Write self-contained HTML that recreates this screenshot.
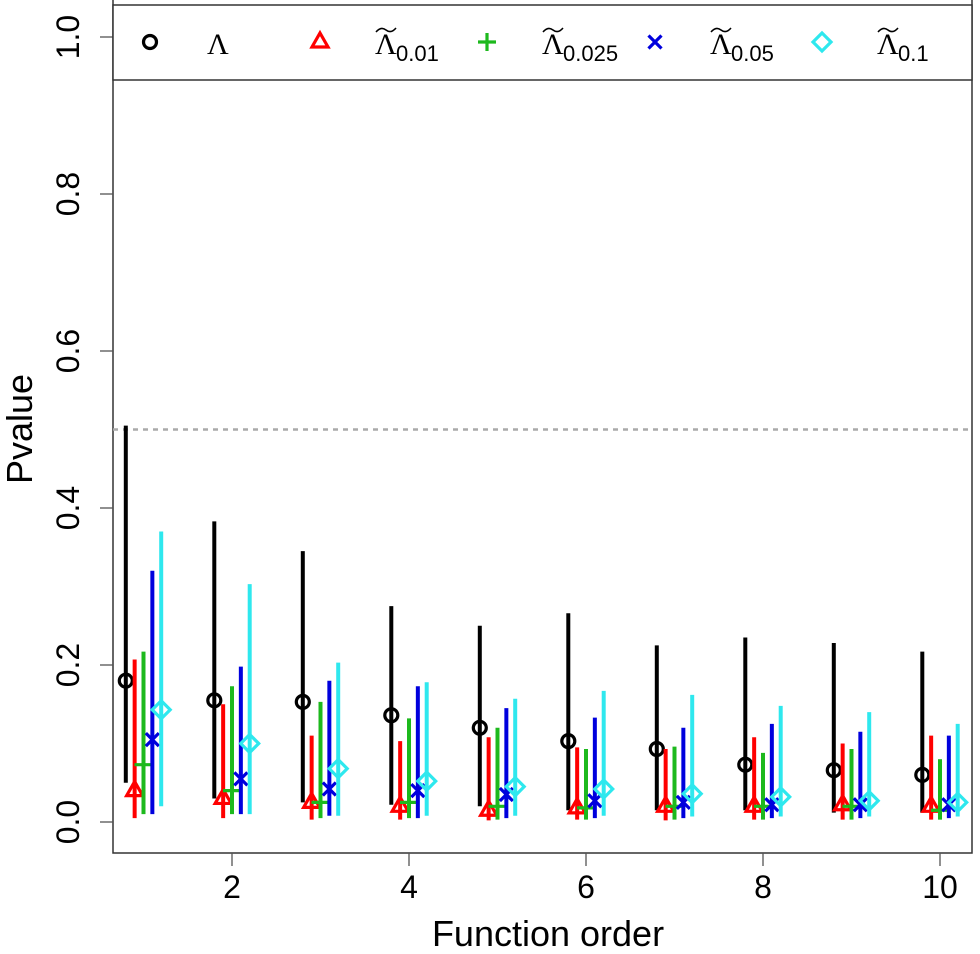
<!DOCTYPE html>
<html><head><meta charset="utf-8"><style>
html,body{margin:0;padding:0;background:#fff}
svg{display:block;font-family:"Liberation Sans",sans-serif}
</style></head><body>
<svg id="c" width="980" height="954" xmlns="http://www.w3.org/2000/svg"></svg>
<script>
const orders=[1,2,3,4,5,6,7,8,9,10];
const blackPt=[0.18,0.155,0.153,0.136,0.12,0.103,0.093,0.073,0.066,0.06];
const blackLo=[0.05,0.03,0.025,0.022,0.02,0.015,0.015,0.015,0.012,0.012];
const blackHi=[0.505,0.383,0.345,0.275,0.25,0.266,0.225,0.235,0.228,0.217];
const redPt=[0.04,0.03,0.025,0.02,0.015,0.018,0.02,0.02,0.022,0.02];
const redLo=[0.005,0.005,0.003,0.003,0.002,0.003,0.002,0.003,0.003,0.003];
const redHi=[0.207,0.15,0.11,0.103,0.108,0.095,0.093,0.108,0.1,0.11];
const greenPt=[0.073,0.04,0.025,0.025,0.02,0.018,0.02,0.02,0.02,0.015];
const greenLo=[0.01,0.01,0.005,0.005,0.003,0.003,0.003,0.003,0.003,0.003];
const greenHi=[0.217,0.173,0.153,0.132,0.12,0.093,0.096,0.088,0.093,0.08];
const bluePt=[0.105,0.055,0.042,0.04,0.035,0.027,0.025,0.022,0.022,0.022];
const blueLo=[0.01,0.01,0.008,0.005,0.005,0.005,0.005,0.005,0.005,0.005];
const blueHi=[0.32,0.198,0.18,0.173,0.145,0.133,0.12,0.125,0.115,0.11];
const cyanPt=[0.143,0.1,0.068,0.052,0.045,0.042,0.036,0.032,0.027,0.025];
const cyanLo=[0.02,0.01,0.008,0.008,0.008,0.008,0.007,0.007,0.007,0.007];
const cyanHi=[0.37,0.303,0.203,0.178,0.157,0.167,0.162,0.148,0.14,0.125];
const yTicks=[0,0.2,0.4,0.6,0.8,1.0];
const yTickLabels=["0.0","0.2","0.4","0.6","0.8","1.0"];
const xTicks=[2,4,6,8,10];
const refLine=0.5;

const NS="http://www.w3.org/2000/svg";
const svg=document.getElementById('c');
const X=v=>232+(v-2)*88.5;
const Y=v=>822-v*785;
function el(t,a,p){const e=document.createElementNS(NS,t);for(const k in a)e.setAttribute(k,a[k]);(p||svg).appendChild(e);return e;}

let b=el('path',{d:'M113,0 V853 H972 V0',fill:'none',stroke:'#333','stroke-width':1.5});


let d=el('line',{x1:113,x2:972,y1:Y(refLine),y2:Y(refLine),stroke:'#aaa','stroke-width':2.5,'stroke-dasharray':'5,5'});



yTicks.forEach((v,i)=>{
  const t=el('line',{x1:100,x2:113,y1:Y(v),y2:Y(v),stroke:'#555','stroke-width':1.3});
  
  
  const l=el('text',{x:68,y:Y(v),'font-size':32,'text-anchor':'middle',transform:`rotate(-90 68 ${Y(v)})`,'dominant-baseline':'central'});
  l.textContent=yTickLabels[i];
  
  
});
xTicks.forEach(v=>{
  const t=el('line',{x1:X(v),x2:X(v),y1:853,y2:866,stroke:'#555','stroke-width':1.3});
  
  
  const l=el('text',{x:X(v),y:898,'font-size':32,'text-anchor':'middle'});
  l.textContent=v;
  
  
});
let xt=el('text',{x:548,y:946,'font-size':36,'text-anchor':'middle'});xt.textContent='Function order';


let yt=el('text',{x:32,y:429,'font-size':36,'text-anchor':'middle',transform:'rotate(-90 32 429)'});yt.textContent='Pvalue';



function marker(type,x,y,col,g){
  if(type==='circle')el('circle',{cx:x,cy:y,r:6.5,fill:'none',stroke:col,'stroke-width':3.2},g);
  else if(type==='tri')el('path',{d:`M${x},${y-9} L${x+8},${y+5} L${x-8},${y+5} Z`,fill:'none',stroke:col,'stroke-width':3.2},g);
  else if(type==='plus')el('path',{d:`M${x-9},${y} H${x+9} M${x},${y-9} V${y+9}`,stroke:col,'stroke-width':3.2},g);
  else if(type==='x')el('path',{d:`M${x-6.5},${y-6.5} L${x+6.5},${y+6.5} M${x-6.5},${y+6.5} L${x+6.5},${y-6.5}`,stroke:col,'stroke-width':3.2},g);
  else el('path',{d:`M${x},${y-9} L${x+9},${y} L${x},${y+9} L${x-9},${y} Z`,fill:'none',stroke:col,'stroke-width':3.2},g);
}
const series=[
 ['lambda','#000','circle',-0.2,blackPt,blackLo,blackHi],
 ['lambda-0.01','#f00','tri',-0.1,redPt,redLo,redHi],
 ['lambda-0.025','#1db91d','plus',0,greenPt,greenLo,greenHi],
 ['lambda-0.05','#00d','x',0.1,bluePt,blueLo,blueHi],
 ['lambda-0.1','#2ee8ee','diamond',0.2,cyanPt,cyanLo,cyanHi]];
series.forEach(s=>{
  const g=el('g',{});
  
  
  orders.forEach((o,i)=>{
    const x=X(o+s[3]);
    el('line',{x1:x,x2:x,y1:Y(s[5][i]),y2:Y(s[6][i]),stroke:s[1],'stroke-width':4},g);
    marker(s[2],x,Y(s[4][i]),s[1],g);
  });
});
const lg=el('g',{});


el('rect',{x:113,y:5,width:859,height:75,fill:'#fff',stroke:'#333','stroke-width':1.5},lg);
const leg=[['circle','#000',150,''],['tri','#f00',320,'0.01'],['plus','#1db91d',487,'0.025'],['x','#00d',655,'0.05'],['diamond','#2ee8ee',822,'0.1']];
leg.forEach(e=>{
  const g=el('g',{},lg);
  
  
  marker(e[0],e[2],42,e[1],g);
  const lx=e[2]+(e[3]?55:57);
  const t=el('text',{x:lx,y:54,'font-size':30,'font-family':'Liberation Serif, serif'},g);
  t.textContent='Λ';
  if(e[3]){
    el('path',{d:`M${lx+1},${32} q5,-6 10,-2 t10,-2`,fill:'none',stroke:'#000','stroke-width':1.5},g);
    const s=el('text',{x:lx+21,y:61,'font-size':22},g);s.textContent=e[3];
  }
});
</script>
</body></html>
